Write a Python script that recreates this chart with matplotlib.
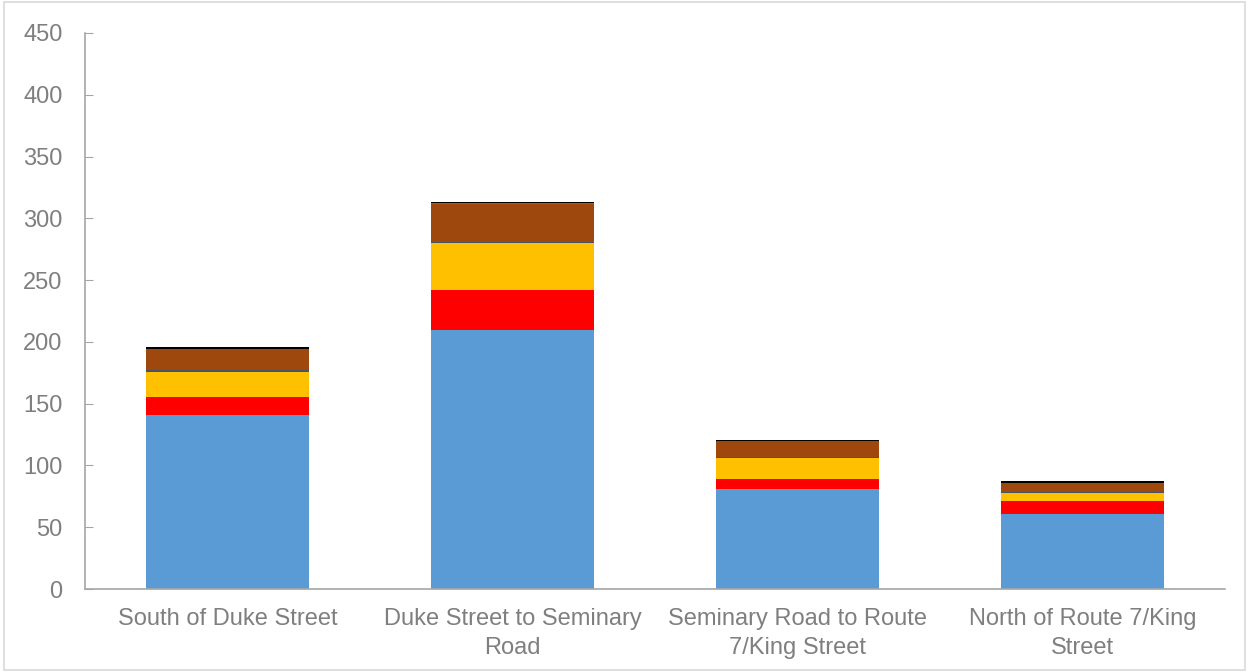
import numpy as np
import matplotlib.pyplot as plt
from matplotlib.patches import Rectangle

# segment labels along the corridor
categories = ['South of Duke Street', 'Duke Street to Seminary\nRoad',
              'Seminary Road to Route\n7/King Street', 'North of Route 7/King\nStreet']

# stacked series, bottom to top
blue = [141, 210, 81, 61]
red = [14, 32, 8, 10]
gold = [21, 38, 17, 7]
gray = [1.5, 0.5, 0.5, 0.5]
brown = [17, 31, 13, 7.5]
magenta = [0, 0.6, 0, 0]
black = [1.3, 1.2, 1.2, 1.6]

series = [blue, red, gold, gray, brown, magenta, black]
colors = ['#5B9BD5', '#FF0000', '#FFC000', '#44546A', '#9E480E', '#CC3399', '#000000']

plt.rcParams['font.family'] = ['Liberation Sans', 'DejaVu Sans']

fig = plt.figure(figsize=(12.49, 6.72), dpi=100)
ax = fig.add_axes([0.068, 0.1235, 0.913, 0.8275])

x = np.arange(len(categories))
bottom = np.zeros(len(categories))
for vals, c in zip(series, colors):
    ax.bar(x, vals, width=0.57, bottom=bottom, color=c, linewidth=0)
    bottom += np.array(vals)

ax.set_ylim(0, 450)
ax.set_xlim(-0.5, 3.5)
ax.set_yticks(np.arange(0, 451, 50))
ax.set_xticks(x)
ax.set_xticklabels(categories, fontsize=17, color='#7F7F7F', linespacing=1.4)
ax.tick_params(axis='y', direction='in', length=6, color='#A6A6A6',
               labelsize=17, labelcolor='#7F7F7F', pad=16)
ax.tick_params(axis='x', length=0, pad=14)

for s in ['top', 'right']:
    ax.spines[s].set_visible(False)
for s in ['left', 'bottom']:
    ax.spines[s].set_color('#A6A6A6')
    ax.spines[s].set_linewidth(1.2)

# light border around the chart area
fig.patches.append(Rectangle((0.003, 0.003), 0.994, 0.994, transform=fig.transFigure,
                             fill=False, edgecolor='#D9D9D9', linewidth=1.2))

fig.savefig('out.png', dpi=100)
